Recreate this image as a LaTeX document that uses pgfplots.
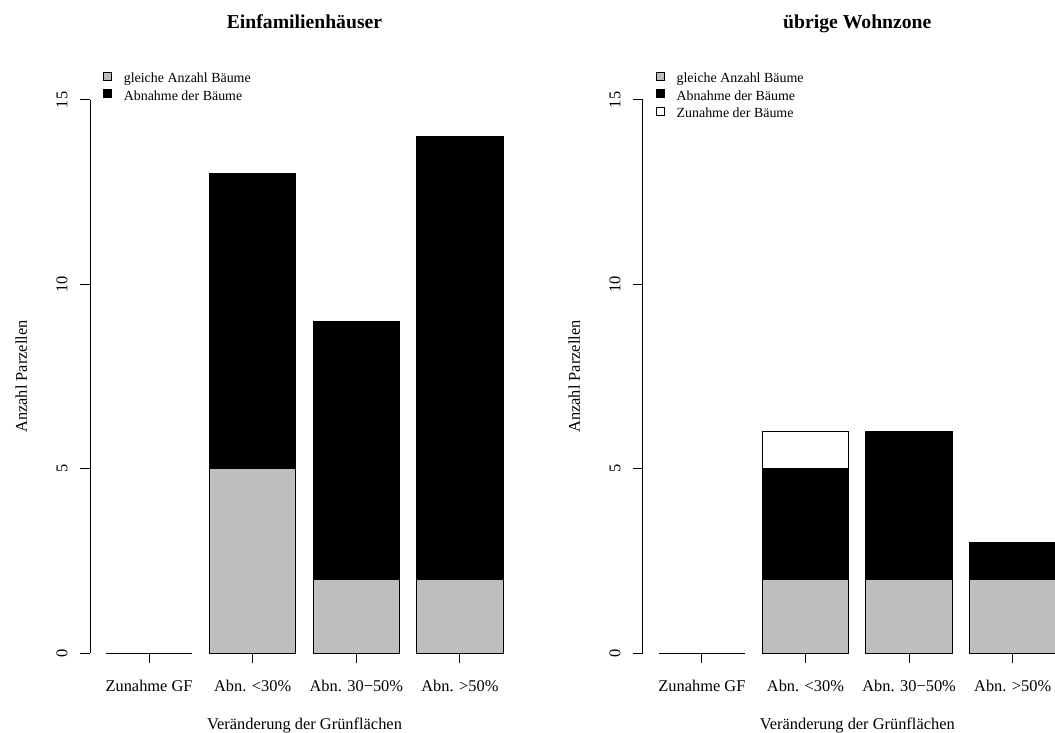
\documentclass[border=0pt]{standalone}
\usepackage{fontspec}
\setmainfont{Liberation Serif}
\usepackage{pgfplots}
\pgfplotsset{compat=1.18}
\definecolor{rgray}{RGB}{190,190,190}
\pgfplotsset{
  sqlegend/.style={legend image code/.code={\draw[##1, line width=0.4bp] (0bp,0bp) rectangle (4bp,4bp);}},
  rbar/.style={
    scale only axis, width=214.5bp, height=276.5bp,
    xmin=0.016, xmax=4.984, ymin=0, ymax=15, clip=false,
    ybar stacked, bar width=1, bar shift=0pt,
    axis lines=left, axis line style={-, line width=0.5bp, black},
    x axis line style={draw=none},
    tick align=outside, major tick length=5bp,
    tick style={black, line width=0.5bp},
    xtick={0.7,1.9,3.1,4.3},
    xticklabels={Zunahme GF, Abn. <30\%, Abn. 30−50\%, Abn. >50\%},
    ytick={0,5,10,15},
    /pgf/number format/assume math mode=true,
    tick label style={font=\fontsize{8.2bp}{9.8bp}\selectfont},
    xticklabel style={yshift=-14bp, anchor=base, inner sep=0pt},
    yticklabel style={xshift=-6.25bp, rotate=90, anchor=base, inner sep=0pt},
    xlabel={Veränderung der Grünflächen}, ylabel={Anzahl Parzellen},
    label style={font=\fontsize{8.2bp}{9.8bp}\selectfont},
    xlabel style={at={(axis description cs:0.5,0)}, anchor=base, yshift=-38bp},
    ylabel style={at={(axis description cs:-0.1469,0.5)}, anchor=base},
    every axis title shift=0pt,
    title style={at={(axis description cs:0.5,1)}, anchor=base, yshift=35.5bp,
      font=\bfseries\fontsize{9.84bp}{11.8bp}\selectfont},
    every axis plot/.append style={draw=black, line width=0.5bp},
    legend cell align=left,
    legend style={at={(axis description cs:0.0303,1.0515)}, anchor=north west,
      draw=none, fill=none, inner sep=0pt, outer sep=0pt, row sep=0pt, column sep=6bp,
      font=\fontsize{6.97bp}{8.75bp}\selectfont,
      nodes={inner sep=0pt, text height=5.5bp, text depth=3.25bp}},
  }
}
\begin{document}
\begin{tikzpicture}
\useasboundingbox (0,0) rectangle (527.5bp,366.5bp);
\begin{axis}[rbar, at={(45bp,40bp)}, anchor=south west, title={Einfamilienhäuser}]
\addplot[fill=rgray, sqlegend] coordinates {(0.7,0) (1.9,5) (3.1,2) (4.3,2)};
\addplot[fill=black, sqlegend] coordinates {(0.7,0) (1.9,8) (3.1,7) (4.3,12)};
\addplot[sharp plot, stack plots=false, forget plot, draw=black, fill=none, line width=0.5bp] coordinates {(0.2,0) (1.2,0)};
\legend{gleiche Anzahl Bäume, Abnahme der Bäume}
\end{axis}
\begin{axis}[rbar, at={(321.4bp,40bp)}, anchor=south west, title={übrige Wohnzone}]
\addplot[fill=rgray, sqlegend] coordinates {(0.7,0) (1.9,2) (3.1,2) (4.3,2)};
\addplot[fill=black, sqlegend] coordinates {(0.7,0) (1.9,3) (3.1,4) (4.3,1)};
\addplot[fill=white, sqlegend] coordinates {(0.7,0) (1.9,1) (3.1,0) (4.3,0)};
\addplot[sharp plot, stack plots=false, forget plot, draw=black, fill=none, line width=0.5bp] coordinates {(0.2,0) (1.2,0)};
\legend{gleiche Anzahl Bäume, Abnahme der Bäume, Zunahme der Bäume}
\end{axis}
\end{tikzpicture}
\end{document}
